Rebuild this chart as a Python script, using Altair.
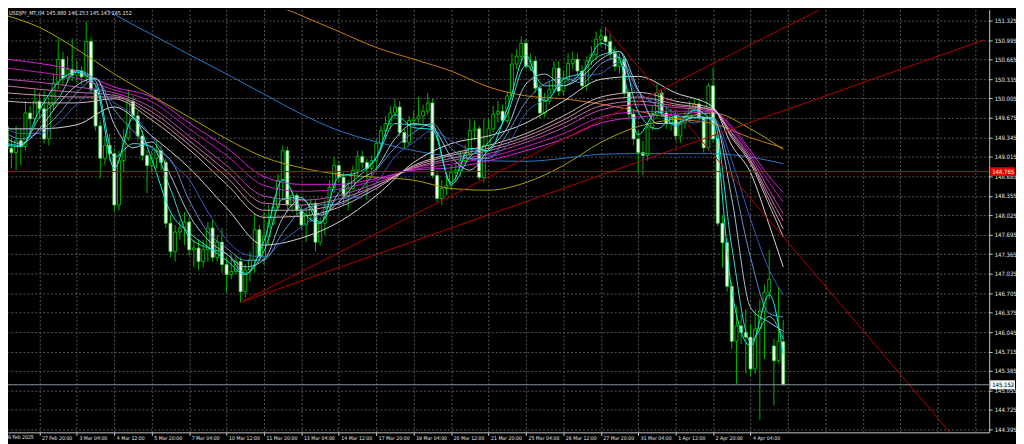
import altair as alt
import pandas as pd

W, H = 989, 426
FONT = "'DejaVu Sans Condensed', 'Liberation Sans', sans-serif"

TITLE = "USDJPY_MT,H4  145.880 146.253 145.143 145.152"
FIRST_DATE_LABEL = "6 Feb 2025"

X_TICK_LABELS = ["27 Feb 20:00", "3 Mar 04:00", "4 Mar 12:00", "5 Mar 20:00", "7 Mar 04:00",
                 "10 Mar 12:00", "11 Mar 20:00", "13 Mar 04:00", "14 Mar 12:00", "17 Mar 20:00",
                 "19 Mar 04:00", "20 Mar 12:00", "21 Mar 20:00", "25 Mar 04:00", "26 Mar 12:00",
                 "27 Mar 20:00", "31 Mar 04:00", "1 Apr 12:00", "2 Apr 20:00", "4 Apr 04:00"]
X_GRID = [0, 8, 16, 24, 32, 40, 48, 56, 64, 72, 80, 88, 96, 104, 112, 120, 128, 136, 144, 152,
          160, 168, 176, 184, 192, 200]
Y_TICKS = [144.395, 144.725, 145.055, 145.385, 145.715, 146.045, 146.375, 146.705, 147.035,
           147.365, 147.695, 148.025, 148.355, 148.685, 149.015, 149.345, 149.675, 150.005,
           150.335, 150.665, 150.995, 151.325]

# ---- H4 candles, bar index -7 .. 159 (bar 0 = 27 Feb 20:00) ----
FIRST_BAR = -7
OPEN = [149.53, 149.16, 149.09, 149.29, 149.19, 149.76, 149.66,
        149.96, 149.83, 149.32, 149.90, 150.27, 150.67, 150.35, 150.50,
        150.40, 150.47, 150.37, 150.97, 150.16, 149.54, 148.99, 149.21,
        149.07, 148.20, 148.95, 149.34, 149.96, 149.71, 149.37, 149.04,
        148.87, 148.99, 149.12, 148.92, 147.89, 147.41, 147.74, 147.81,
        147.91, 147.44, 147.47, 147.24, 147.44, 147.81, 147.31, 147.57,
        147.19, 147.02, 147.07, 147.24, 146.73, 147.10, 147.27, 147.78,
        147.32, 147.66, 147.89, 148.16, 148.62, 149.12, 148.20, 148.36,
        148.11, 147.86, 148.03, 148.23, 147.57, 147.89, 148.16, 148.50,
        148.87, 148.67, 148.36, 148.48, 148.79, 149.02, 148.92, 148.82,
        148.95, 149.24, 149.46, 149.58, 149.76, 149.86, 149.43, 149.26,
        149.63, 149.66, 149.71, 149.79, 149.93, 148.70, 148.31, 148.48,
        148.53, 148.75, 148.79, 148.95, 149.07, 149.46, 149.49, 148.67,
        149.21, 149.49, 149.74, 149.79, 149.63, 150.05, 150.59, 150.72,
        150.94, 150.55, 150.64, 150.18, 149.76, 149.96, 150.16, 150.52,
        150.13, 150.33, 150.60, 150.67, 150.47, 150.22, 150.64, 150.75,
        151.01, 151.06, 150.97, 150.77, 150.55, 150.67, 150.10, 149.74,
        149.32, 149.09, 149.04, 149.51, 149.74, 150.10, 149.76, 149.58,
        149.71, 149.37, 149.59, 149.68, 149.83, 149.91, 149.68, 149.17,
        150.22, 149.32, 147.89, 147.56, 146.82, 145.89, 146.15, 146.04,
        145.96, 145.42, 146.10, 146.40, 146.72, 145.81, 145.56, 145.880]
HIGH = [149.91, 149.34, 149.54, 149.49, 149.96, 149.88, 150.16,
        150.10, 150.13, 150.03, 150.43, 151.02, 150.80, 150.72, 151.02,
        150.64, 150.55, 151.31, 151.04, 150.23, 149.63, 149.37, 149.41,
        149.16, 149.12, 149.49, 150.16, 150.05, 149.79, 149.46, 149.12,
        149.12, 149.29, 149.21, 148.99, 148.03, 147.86, 147.94, 148.08,
        147.98, 147.61, 147.61, 147.61, 147.91, 147.94, 147.69, 147.81,
        147.31, 147.36, 147.36, 147.31, 147.19, 147.41, 148.06, 147.86,
        148.08, 148.20, 148.31, 148.73, 149.21, 149.19, 148.45, 148.40,
        148.20, 148.15, 148.31, 148.28, 147.98, 148.28, 148.62, 149.01,
        148.95, 148.75, 148.62, 148.87, 149.12, 149.12, 148.99, 149.04,
        149.32, 149.54, 149.71, 149.88, 150.00, 149.96, 149.49, 149.71,
        149.79, 150.03, 149.90, 150.10, 150.00, 148.79, 148.62, 148.70,
        148.87, 148.92, 149.12, 149.21, 149.66, 149.63, 149.54, 149.66,
        149.66, 149.88, 149.96, 149.90, 150.13, 150.77, 150.84, 151.06,
        151.01, 150.77, 150.72, 150.25, 150.10, 150.30, 150.64, 150.64,
        150.47, 150.77, 150.80, 150.77, 150.57, 150.72, 150.89, 151.14,
        151.19, 151.22, 151.09, 150.89, 150.77, 150.72, 150.16, 149.83,
        149.46, 149.29, 149.59, 149.88, 150.25, 150.16, 149.88, 149.83,
        149.79, 149.71, 149.79, 149.96, 150.01, 150.00, 149.71, 150.27,
        150.52, 149.43, 148.03, 147.64, 146.90, 146.48, 146.35, 146.43,
        146.18, 146.43, 146.60, 146.85, 147.44, 145.93, 146.82, 146.253]
LOW = [149.01, 148.82, 148.79, 148.87, 149.12, 149.37, 149.54,
       149.66, 149.24, 149.21, 149.79, 150.16, 150.22, 150.27, 150.30,
       150.27, 150.23, 150.27, 150.10, 149.46, 148.65, 148.87, 148.95,
       148.08, 148.11, 148.75, 149.29, 149.63, 149.29, 148.95, 148.40,
       148.75, 148.82, 148.79, 147.81, 147.31, 147.24, 147.61, 147.52,
       147.34, 147.14, 147.10, 147.14, 147.24, 147.24, 147.24, 147.05,
       146.72, 146.94, 147.02, 146.55, 146.63, 146.90, 147.05, 147.24,
       147.19, 147.52, 147.86, 148.11, 148.28, 148.08, 148.08, 148.03,
       147.78, 147.57, 147.91, 147.41, 147.51, 147.69, 148.11, 148.41,
       148.58, 148.20, 148.11, 148.45, 148.70, 148.82, 148.28, 148.70,
       148.82, 149.12, 149.32, 149.49, 149.66, 149.36, 149.16, 149.21,
       149.54, 149.59, 149.56, 149.73, 148.65, 148.25, 148.20, 148.36,
       148.45, 148.58, 148.70, 148.87, 149.02, 149.29, 148.62, 148.58,
       149.12, 149.43, 149.59, 149.56, 149.59, 150.00, 150.50, 150.64,
       150.50, 150.47, 150.10, 149.66, 149.69, 149.90, 150.10, 150.05,
       150.05, 150.27, 150.50, 150.38, 150.16, 150.13, 150.57, 150.67,
       150.89, 150.84, 150.67, 150.47, 150.43, 150.03, 149.63, 149.21,
       148.73, 148.70, 148.95, 149.46, 149.66, 149.69, 149.49, 149.46,
       149.29, 149.26, 149.49, 149.59, 149.76, 149.63, 149.09, 149.12,
       149.26, 147.84, 147.14, 146.73, 145.76, 145.17, 145.84, 145.34,
       145.30, 145.34, 144.55, 145.59, 146.60, 144.80, 145.51, 145.143]
CLOSE = [149.16, 149.09, 149.29, 149.19, 149.76, 149.66, 149.96,
         149.83, 149.32, 149.90, 150.27, 150.67, 150.35, 150.50, 150.40,
         150.47, 150.37, 150.97, 150.16, 149.54, 148.99, 149.21, 149.07,
         148.20, 148.95, 149.34, 149.96, 149.71, 149.37, 149.04, 148.87,
         148.99, 149.12, 148.92, 147.89, 147.41, 147.74, 147.81, 147.91,
         147.44, 147.47, 147.24, 147.44, 147.81, 147.31, 147.57, 147.19,
         147.02, 147.07, 147.24, 146.73, 147.10, 147.27, 147.78, 147.32,
         147.66, 147.89, 148.16, 148.62, 149.12, 148.20, 148.36, 148.11,
         147.86, 148.03, 148.23, 147.57, 147.89, 148.16, 148.50, 148.87,
         148.67, 148.36, 148.48, 148.79, 149.02, 148.92, 148.82, 148.95,
         149.24, 149.46, 149.58, 149.76, 149.86, 149.43, 149.26, 149.63,
         149.66, 149.71, 149.79, 149.93, 148.70, 148.31, 148.48, 148.53,
         148.75, 148.79, 148.95, 149.07, 149.46, 149.49, 148.67, 149.21,
         149.49, 149.74, 149.79, 149.63, 150.05, 150.59, 150.72, 150.94,
         150.55, 150.64, 150.18, 149.76, 149.96, 150.16, 150.52, 150.13,
         150.33, 150.60, 150.67, 150.47, 150.22, 150.64, 150.75, 151.01,
         151.06, 150.97, 150.77, 150.55, 150.67, 150.10, 149.74, 149.32,
         149.09, 149.04, 149.51, 149.74, 150.10, 149.76, 149.58, 149.71,
         149.37, 149.59, 149.68, 149.83, 149.91, 149.68, 149.17, 150.22,
         149.32, 147.89, 147.56, 146.82, 145.89, 146.15, 146.04, 145.96,
         145.42, 146.10, 146.40, 146.72, 146.94, 145.56, 145.89, 145.152]

# ---- fast moving-average ribbon (read every 4 bars) ----
FAST_IDX = [-7, -4, 0, 4, 8, 12, 16, 20, 24, 28, 32, 36, 40, 44, 48, 52, 56, 60, 64, 68, 72,
            76, 80, 84, 88, 92, 96, 100, 104, 108, 112, 116, 120, 124, 128, 132, 136, 140, 144,
            148, 152, 156, 159]
FAST_1 = [149.21, 149.19, 149.81, 150.28, 150.45, 150.23, 148.82, 149.68, 148.97, 148.08, 147.73,
          147.49, 147.26, 147.02, 147.59, 148.63, 148.11, 147.89, 148.68, 148.75, 149.01, 149.73,
          149.51, 149.48, 148.58, 149.16, 149.12, 149.83, 150.74, 149.96, 150.33, 150.45, 150.94,
          150.67, 149.39, 149.78, 149.56, 149.81, 149.58, 146.75, 145.81, 146.68, 145.67]
FAST_2 = [149.24, 149.21, 149.68, 150.00, 150.48, 150.30, 149.01, 149.24, 149.19, 148.47, 147.66,
          147.47, 147.37, 147.04, 147.42, 148.30, 148.33, 147.91, 148.41, 148.67, 148.99, 149.58,
          149.56, 149.56, 148.55, 149.01, 149.26, 149.74, 150.57, 150.22, 150.22, 150.45, 150.74,
          150.80, 149.78, 149.49, 149.71, 149.68, 149.66, 147.49, 145.89, 146.31, 145.93]
FAST_3 = [149.32, 149.24, 149.49, 149.91, 150.23, 150.35, 149.56, 149.17, 149.27, 148.70, 148.03,
          147.61, 147.37, 147.15, 147.27, 147.98, 148.30, 148.03, 148.25, 148.60, 148.82, 149.32,
          149.58, 149.51, 149.02, 148.79, 149.14, 149.51, 150.25, 150.42, 150.22, 150.38, 150.67,
          150.80, 150.15, 149.58, 149.59, 149.68, 149.68, 148.31, 146.46, 146.21, 146.06]
FAST_4 = [149.41, 149.32, 149.44, 149.73, 150.11, 150.33, 149.81, 149.46, 149.16, 148.97, 148.28,
          147.74, 147.47, 147.26, 147.27, 147.73, 148.10, 148.20, 148.21, 148.41, 148.79, 149.17,
          149.43, 149.58, 149.16, 148.99, 148.99, 149.41, 149.95, 150.25, 150.35, 150.27, 150.59,
          150.70, 150.13, 149.88, 149.54, 149.71, 149.64, 148.72, 147.31, 146.36, 146.30]
FAST_5 = [149.49, 149.41, 149.41, 149.59, 149.91, 150.16, 149.93, 149.73, 149.36, 148.94, 148.63,
          148.08, 147.61, 147.36, 147.32, 147.59, 147.83, 148.06, 148.30, 148.33, 148.57, 149.02,
          149.26, 149.46, 149.29, 149.14, 149.04, 149.21, 149.76, 150.00, 150.27, 150.38, 150.43,
          150.62, 150.05, 149.96, 149.74, 149.59, 149.68, 148.95, 147.96, 147.10, 146.68]

# ---- slow moving-average ribbon ----
SLOW_IDX = [-7, 0, 8, 16, 24, 32, 40, 48, 56, 64, 72, 80, 88, 96, 104, 112, 120, 128, 136, 144,
            148, 152, 156, 159]
SLOW_1 = [150.67, 150.60, 150.47, 150.20, 150.03, 149.59, 149.17, 148.68, 148.55, 148.55, 148.65,
          148.79, 148.83, 148.95, 149.12, 149.32, 149.59, 149.69, 149.74, 149.78, 149.53, 149.12,
          148.68, 148.41]
SLOW_2 = [150.52, 150.45, 150.35, 150.15, 149.95, 149.49, 149.04, 148.53, 148.43, 148.47, 148.62,
          148.80, 148.89, 149.01, 149.19, 149.41, 149.69, 149.78, 149.79, 149.79, 149.49, 149.07,
          148.58, 148.25]
SLOW_3 = [150.33, 150.28, 150.20, 150.10, 149.85, 149.37, 148.87, 148.35, 148.28, 148.36, 148.57,
          148.82, 148.95, 149.07, 149.26, 149.51, 149.81, 149.90, 149.85, 149.79, 149.43, 149.02,
          148.45, 148.05]
SLOW_4 = [150.22, 150.16, 150.11, 150.06, 149.78, 149.29, 148.77, 148.23, 148.20, 148.30, 148.53,
          148.83, 148.99, 149.12, 149.31, 149.58, 149.88, 149.96, 149.88, 149.81, 149.41, 148.97,
          148.36, 147.93]
SLOW_5 = [150.10, 150.06, 150.03, 150.03, 149.71, 149.22, 148.67, 148.11, 148.11, 148.23, 148.52,
          148.85, 149.04, 149.16, 149.36, 149.64, 149.96, 150.03, 149.91, 149.81, 149.37, 148.94,
          148.28, 147.79]
SLOW_6 = [149.96, 149.93, 149.93, 150.00, 149.64, 149.14, 148.55, 147.99, 148.01, 148.16, 148.48,
          148.87, 149.07, 149.21, 149.41, 149.71, 150.03, 150.11, 149.96, 149.83, 149.34, 148.90,
          148.20, 147.66]
SLOW_7 = [149.49, 149.49, 149.56, 149.86, 149.37, 148.83, 148.15, 147.52, 147.64, 147.91, 148.36,
          148.92, 149.24, 149.37, 149.59, 149.96, 150.33, 150.38, 150.10, 149.86, 149.21, 148.75,
          147.86, 147.15]

# ---- long moving averages ----
OLIVE_IDX = [-7, 0, 8, 16, 24, 32, 40, 48, 56, 64, 72, 80, 88, 96, 104, 112, 120, 128, 136, 144,
             152, 159]
OLIVE = [151.41, 151.21, 150.84, 150.42, 150.05, 149.69, 149.32, 149.01, 148.83, 148.72, 148.67,
         148.62, 148.48, 148.45, 148.58, 148.87, 149.26, 149.53, 149.66, 149.76, 149.49, 149.14]
ORANGE_IDX = [44, 50, 56, 64, 72, 80, 88, 96, 104, 112, 120, 128, 136, 144, 152, 159]
ORANGE = [151.81, 151.61, 151.41, 151.14, 150.87, 150.67, 150.47, 150.20, 150.05, 150.00, 149.91,
          149.79, 149.66, 149.58, 149.34, 149.17]
BLUE_IDX = [8, 16, 24, 32, 40, 48, 56, 64, 72, 80, 88, 96, 104, 112, 120, 128, 136, 144, 152, 159]
BLUE = [151.81, 151.43, 151.09, 150.75, 150.42, 150.08, 149.74, 149.46, 149.27, 149.12, 149.02,
        148.95, 148.94, 148.99, 149.06, 149.07, 149.07, 149.07, 149.01, 148.90]

# ---- drawn objects ----
TREND_NAMES = ["A", "A", "B", "B", "C", "C"]
TREND_IDX = [43, 185, 43, 202, 121, 200]
TREND_PRICE = [146.55, 152.24, 146.55, 151.00, 151.20, 143.84]
ALERT_LEVEL = 148.765
BID = 145.152

# ---------------------------------------------------------------
bar_idx = list(range(FIRST_BAR, FIRST_BAR + len(CLOSE)))
candles = pd.DataFrame({"i": bar_idx, "o": OPEN, "h": HIGH, "l": LOW, "c": CLOSE})
candles["kind"] = ["bull" if c >= o else "bear" for o, c in zip(OPEN, CLOSE)]
trend = pd.DataFrame({"name": TREND_NAMES, "i": TREND_IDX, "v": TREND_PRICE})

xs = alt.Scale(domain=[-5.669, 201.97], nice=False, zero=False)
ys = alt.Scale(domain=[144.345, 151.51], nice=False, zero=False)

labels_js = "[" + ",".join("'" + t + "'" for t in X_TICK_LABELS) + "]"
label_expr = ("datum.value >= 0 && datum.value <= 152 ? " + labels_js +
              "[round(datum.value / 8)] : ''")

x_axis = alt.Axis(values=X_GRID, labelExpr=label_expr, labelAlign="left", labelBaseline="top",
                  labelOffset=2, labelPadding=0, labelFontSize=5.2, labelFont=FONT,
                  labelColor="#E8E8E8", tickSize=3, tickColor="#C8C8C8",
                  tickOpacity={"condition": {"test": "datum.value > 152", "value": 0}, "value": 1},
                  domainColor="#C8C8C8", domainWidth=1, grid=True, gridColor="#575757",
                  gridDash=[2, 2], gridWidth=1, title=None, labelOverlap=False,
                  labelBound=False, labelFlush=False)
y_axis = alt.Axis(orient="right", values=Y_TICKS, format=".3f", labelFontSize=6,
                  labelFont=FONT, labelColor="#E8E8E8", labelPadding=2, tickSize=3,
                  tickColor="#C8C8C8", domainColor="#C8C8C8", domainWidth=1, grid=True,
                  gridColor="#575757", gridDash=[2, 2], gridWidth=1, title=None,
                  labelOverlap=False, labelBound=False, labelFlush=False)


def X(field="i"):
    return alt.X(field + ":Q", scale=xs, axis=x_axis)


def Y(field):
    return alt.Y(field + ":Q", scale=ys, axis=y_axis)


wicks = alt.Chart(candles).mark_rule(color="#00B400", strokeWidth=1, clip=True).encode(
    x=X(), y=Y("l"), y2="h:Q")

bull = alt.datum.kind == "bull"
bodies = alt.Chart(candles).mark_bar(width=3, strokeWidth=0.8, clip=True).encode(
    x=X(), y=Y("o"), y2="c:Q",
    fill=alt.condition(bull, alt.value("#000000"), alt.value("#F2FFF2")),
    stroke=alt.condition(bull, alt.value("#00D800"), alt.value("#40D040")))


def ma_line(idx, vals, color):
    df = pd.DataFrame({"i": idx, "v": vals})
    return alt.Chart(df).mark_line(color=color, strokeWidth=1, interpolate="monotone",
                                   clip=True).encode(x=X(), y=Y("v"))


ma_layers = [
    ma_line(OLIVE_IDX, OLIVE, "#ADA000"),
    ma_line(ORANGE_IDX, ORANGE, "#CC7A10"),
    ma_line(BLUE_IDX, BLUE, "#2C78C4"),
    ma_line(SLOW_IDX, SLOW_1, "#E020E0"),
    ma_line(SLOW_IDX, SLOW_2, "#C818C0"),
    ma_line(SLOW_IDX, SLOW_3, "#C048B4"),
    ma_line(SLOW_IDX, SLOW_4, "#C870A8"),
    ma_line(SLOW_IDX, SLOW_5, "#D094AE"),
    ma_line(SLOW_IDX, SLOW_6, "#D8B4B8"),
    ma_line(SLOW_IDX, SLOW_7, "#D8D8D8"),
    ma_line(FAST_IDX, FAST_5, "#3A58C0"),
    ma_line(FAST_IDX, FAST_4, "#5E8ED0"),
    ma_line(FAST_IDX, FAST_3, "#A0C4E0"),
    ma_line(FAST_IDX, FAST_2, "#40D8C8"),
    ma_line(FAST_IDX, FAST_1, "#10F4E4"),
]

trend_layer = alt.Chart(trend).mark_line(color="#B40000", strokeWidth=1, clip=True).encode(
    x=X(), y=Y("v"), detail="name:N")

alert_df = pd.DataFrame({"v": [ALERT_LEVEL], "t": ["%.3f" % ALERT_LEVEL]})
bid_df = pd.DataFrame({"v": [BID], "t": ["%.3f" % BID]})

alert_line = alt.Chart(alert_df).mark_rule(color="#D00000", strokeWidth=1).encode(y=Y("v"))
bid_line = alt.Chart(bid_df).mark_rule(color="#8596A4", strokeWidth=1).encode(y=Y("v"))

alert_tag = alt.Chart(alert_df).mark_rule(color="#E00000", strokeWidth=9, strokeCap="butt").encode(
    x=alt.value(W + 1), x2=alt.value(W + 26), y=Y("v"))
alert_txt = alt.Chart(alert_df).mark_text(align="left", baseline="middle", fontSize=6,
                                          font=FONT, color="#FFFFFF").encode(
    x=alt.value(W + 3), y=Y("v"), text="t:N")
bid_tag = alt.Chart(bid_df).mark_rule(color="#F4F4F4", strokeWidth=9, strokeCap="butt").encode(
    x=alt.value(W + 1), x2=alt.value(W + 26), y=Y("v"))
bid_txt = alt.Chart(bid_df).mark_text(align="left", baseline="middle", fontSize=6,
                                      font=FONT, color="#000000").encode(
    x=alt.value(W + 3), y=Y("v"), text="t:N")

title_txt = alt.Chart(pd.DataFrame({"t": [TITLE]})).mark_text(
    align="left", baseline="top", fontSize=5.5, font=FONT, color="#E8E8E8").encode(
    x=alt.value(1), y=alt.value(1), text="t:N")
first_date = alt.Chart(pd.DataFrame({"t": [FIRST_DATE_LABEL]})).mark_text(
    align="left", baseline="top", fontSize=5.2, font=FONT, color="#E8E8E8").encode(
    x=alt.value(0), y=alt.value(H + 3), text="t:N")

chart = alt.layer(
    wicks, bodies, *ma_layers, trend_layer,
    alert_line, bid_line, alert_tag, alert_txt, bid_tag, bid_txt, title_txt, first_date
).properties(
    width=W, height=H, background="#000000",
    padding={"left": 0, "top": 0, "right": 27, "bottom": 10},
    autosize=alt.AutoSizeParams(type="none")
).configure_view(stroke=None, fill="#000000")

chart.save("out.html", embed_options={"renderer": "svg", "actions": False})
